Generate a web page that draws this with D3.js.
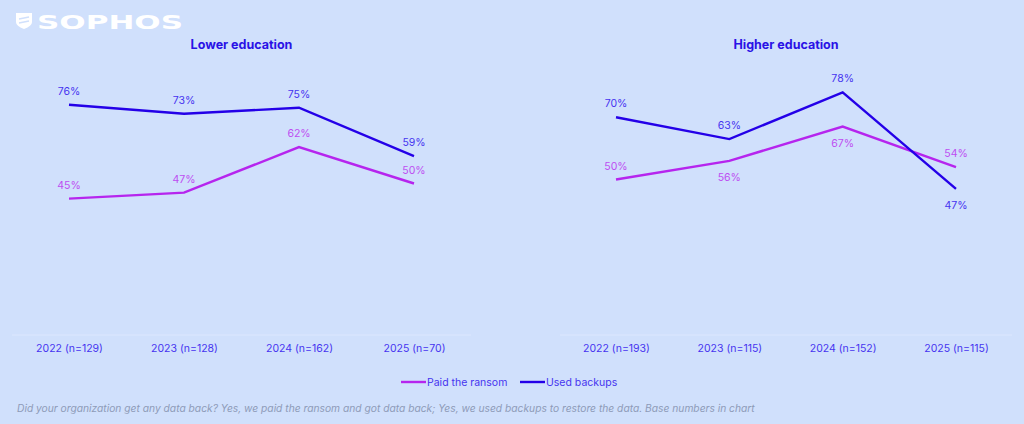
<!DOCTYPE html>
<html><head><meta charset="utf-8">
<script src="https://cdn.jsdelivr.net/npm/d3@7"></script>
<style>
html,body{margin:0;padding:0;background:#D0E0FC;}
svg{display:block;font-family:Inter,"Liberation Sans",Arial,sans-serif;}
</style></head>
<body><svg id="c" width="1024" height="424"></svg>
<script>
const lowerCats = ["2022 (n=129)","2023 (n=128)","2024 (n=162)","2025 (n=70)"];
const higherCats = ["2022 (n=193)","2023 (n=115)","2024 (n=152)","2025 (n=115)"];
const lowerPaid = [45,47,62,50];
const lowerBackups = [76,73,75,59];
const higherPaid = [50,56,67,54];
const higherBackups = [70,63,78,47];
const seriesNames = ["Paid the ransom","Used backups"];
const lowerPaidPos = ["above","above","above","above"];
const lowerBackPos = ["above","above","above","above"];
const higherPaidPos = ["above","below","below","above"];
const higherBackPos = ["above","above","above","below"];

const colors = {paid:"#B625EE", back:"#2400E8", paidLbl:"#BE4DF2", backLbl:"#4634F0", axis:"#4634F0", title:"#2A12E6"};
const svg = d3.select("#c");

// logo
const logo = svg.append("g").attr("transform","translate(16,13)");
logo.append("path").attr("d","M0,0 H16 V9 Q16,13 8,16 Q0,13 0,9 Z").attr("fill","#fff");
logo.append("path").attr("d","M3,6 L13,4 M3,10 L13,8").attr("stroke","#D0E0FC").attr("stroke-width",1.6);
svg.append("text").attr("x",37).attr("y",29).text("SOPHOS")
  .attr("fill","#fff").attr("font-size",20).attr("font-weight",900)
  .attr("font-family","'DejaVu Sans',sans-serif").attr("textLength",146).attr("lengthAdjust","spacingAndGlyphs");

function panel(cats, paid, back, paidPos, backPos, x0, x1, px0, px1, yTop, title){
  const x = d3.scalePoint().domain(cats).range([px0,px1]);
  const y = d3.scaleLinear().domain([0,100]).range([335,yTop]);
  const g = svg.append("g");
  g.append("line").attr("x1",x0).attr("x2",x1).attr("y1",335).attr("y2",335)
    .attr("stroke","#DCE7FE").attr("stroke-width",1);
  const ax = g.append("g").attr("transform","translate(0,335)").call(d3.axisBottom(x).tickSize(0).tickPadding(10));
  ax.select(".domain").remove();
  ax.selectAll("text").attr("fill",colors.axis).attr("font-size",10.5).attr("font-family","Inter,'Liberation Sans',sans-serif");
  g.append("text").attr("x",(x0+x1)/2).attr("y",49).attr("text-anchor","middle")
    .attr("fill",colors.title).attr("font-weight",700).attr("font-size",12.5).text(title);
  const line = d3.line().x((d,i)=>x(cats[i])).y(d=>y(d));
  [[paid,colors.paid,colors.paidLbl,paidPos],[back,colors.back,colors.backLbl,backPos]].forEach(([vals,c,lc,pos])=>{
    g.append("path").datum(vals).attr("d",line).attr("fill","none").attr("stroke",c).attr("stroke-width",2.4);
    g.selectAll(null).data(vals).enter().append("text")
      .attr("x",(d,i)=>x(cats[i])).attr("y",(d,i)=>y(d)+(pos[i]==="above"?-10:20))
      .attr("text-anchor","middle").attr("fill",lc).attr("font-size",10.5).text(d=>d+"%");
  });
}
panel(lowerCats, lowerPaid, lowerBackups, lowerPaidPos, lowerBackPos, 12, 471, 69, 414, 32, "Lower education");
panel(higherCats, higherPaid, higherBackups, higherPaidPos, higherBackPos, 560, 1012, 616, 956, 24, "Higher education");

// legend
const leg = svg.append("g");
[[seriesNames[0],colors.paid,401],[seriesNames[1],colors.back,520]].forEach(([n,c,lx])=>{
  leg.append("line").attr("x1",lx).attr("x2",lx+25).attr("y1",382).attr("y2",382).attr("stroke",c).attr("stroke-width",2.4);
  leg.append("text").attr("x",lx+26).attr("y",386).attr("fill",colors.axis).attr("font-size",10.5).text(n);
});

svg.append("text").attr("x",17).attr("y",412).attr("fill","#8E9BB8").attr("font-style","italic").attr("font-size",10.25)
  .text("Did your organization get any data back? Yes, we paid the ransom and got data back; Yes, we used backups to restore the data. Base numbers in chart");
</script></body></html>
